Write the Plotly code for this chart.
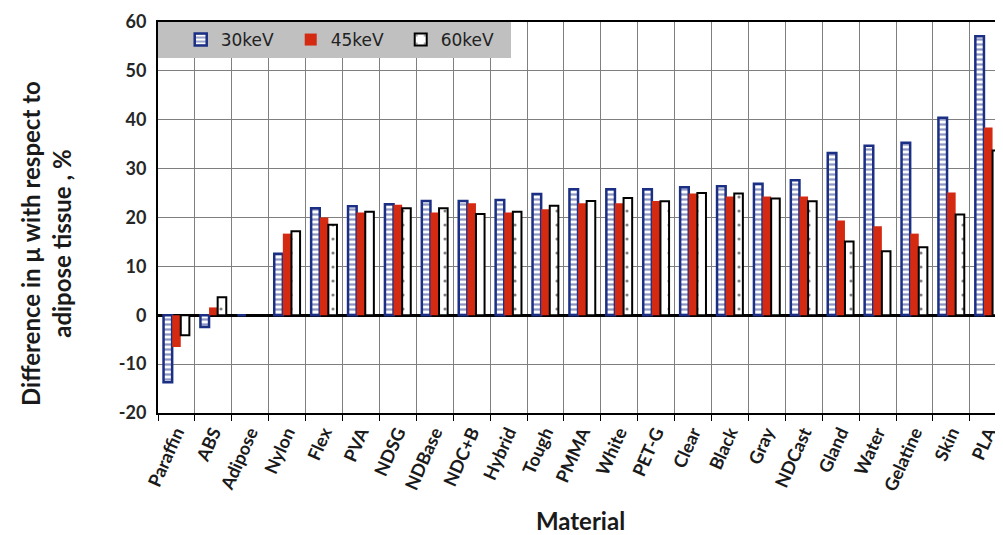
import plotly.graph_objects as go

materials = ["Paraffin", "ABS", "Adipose", "Nylon", "Flex", "PVA", "NDSG", "NDBase",
             "NDC+B", "Hybrid", "Tough", "PMMA", "White", "PET-G", "Clear", "Black",
             "Gray", "NDCast", "Gland", "Water", "Gelatine", "Skin", "PLA"]
kev30 = [-13.7, -2.4, 0, 12.6, 21.9, 22.3, 22.7, 23.4, 23.4, 23.6, 24.8, 25.8, 25.8,
         25.8, 26.2, 26.4, 26.9, 27.6, 33.2, 34.7, 35.3, 40.4, 57.1]
kev45 = [-6.5, 1.6, 0, 16.7, 20.0, 21.0, 22.6, 21.0, 22.9, 21.0, 21.7, 22.9, 22.9,
         23.4, 24.9, 24.3, 24.3, 24.3, 19.4, 18.2, 16.7, 25.1, 38.4]
kev60 = [-4.1, 3.7, 0, 17.2, 18.5, 21.2, 21.9, 21.9, 20.7, 21.2, 22.4, 23.4, 24.0,
         23.3, 25.0, 24.9, 23.9, 23.3, 15.1, 13.1, 13.9, 20.6, 33.7]
y_tick_values = [-20, -10, 0, 10, 20, 30, 40, 50, 60]
y_tick_labels = ["-20", "-10", "0", "10", "20", "30", "40", "50", "60"]

navy = "#1b2f84"
red = "#d42a12"

fig = go.Figure()
fig.add_trace(go.Bar(
    name="30keV", x=materials, y=kev30,
    marker=dict(color="white", line=dict(color=navy, width=2.5),
                pattern=dict(shape="-", fgcolor=navy, bgcolor="white", size=5, solidity=0.45)),
))
fig.add_trace(go.Bar(
    name="45keV", x=materials, y=kev45,
    marker=dict(color=red, line=dict(color=red, width=0)),
))
fig.add_trace(go.Bar(
    name="60keV", x=materials, y=kev60,
    marker=dict(color="white", line=dict(color="black", width=2),
                pattern=dict(shape=".", fgcolor="black", bgcolor="white", size=14, solidity=0.04)),
))

# page body has an 8px margin; figure placed at (8, 8)
off = 8
cat_px = 36.9
plot_left, plot_right, plot_top, plot_bottom = 158, 1003, 22, 413
plot_px = plot_right - plot_left
plot_h = plot_bottom - plot_top
xmax = -0.5 + plot_px / cat_px

fam = "Lato, Open Sans, sans-serif"

fig.update_layout(
    width=1003 - off, height=535 - off,
    margin=dict(l=plot_left - off, r=0, t=plot_top - off, b=535 - plot_bottom),
    paper_bgcolor="white", plot_bgcolor="white",
    barmode="group", bargap=0.3, bargroupgap=0,
    font=dict(family=fam, color="#262626"),
    legend=dict(
        orientation="h", x=0, y=1, xanchor="left", yanchor="top",
        bgcolor="#c0c0c0", borderwidth=0,
        font=dict(family="DejaVu Sans, sans-serif", size=17, color="#222222"),
        entrywidth=65, itemwidth=30, traceorder="normal",
        title=dict(text="&nbsp;&nbsp;", side="left"),
    ),
    xaxis=dict(
        type="category", range=[-0.5, xmax], automargin=False,
        tickson="boundaries", ticks="outside", ticklen=6, tickcolor="black",
        showgrid=True, gridcolor="#7f7f7f", gridwidth=1,
        showline=True, linecolor="black", linewidth=2, mirror=True,
        tickangle=-66, tickfont=dict(family=fam, size=18, color="#1a1a1a", weight="bold"),
        title=dict(text="<b>Material</b>", font=dict(family=fam, size=24, color="#1a1a1a"),
                   standoff=22),
    ),
    yaxis=dict(
        range=[-20, 60], automargin=False,
        tickmode="array", tickvals=y_tick_values, ticktext=y_tick_labels,
        showgrid=True, gridcolor="#7f7f7f", gridwidth=1,
        zeroline=True, zerolinecolor="black", zerolinewidth=2.5,
        showline=True, linecolor="black", linewidth=2, mirror=False,
        ticks="", tickfont=dict(family=fam, size=18, color="#262626", weight="bold"),
        ticklabelstandoff=6,
    ),
    annotations=[dict(
        text="<b>Difference in μ with respect to<br>adipose tissue , %</b>",
        xref="paper", yref="paper", x=(46 - plot_left) / plot_px,
        y=(plot_bottom - 244) / plot_h,
        xanchor="center", yanchor="middle", textangle=-90, showarrow=False,
        font=dict(family=fam, size=24, color="#1a1a1a"),
    )],
)

fig.write_html("out.html")
